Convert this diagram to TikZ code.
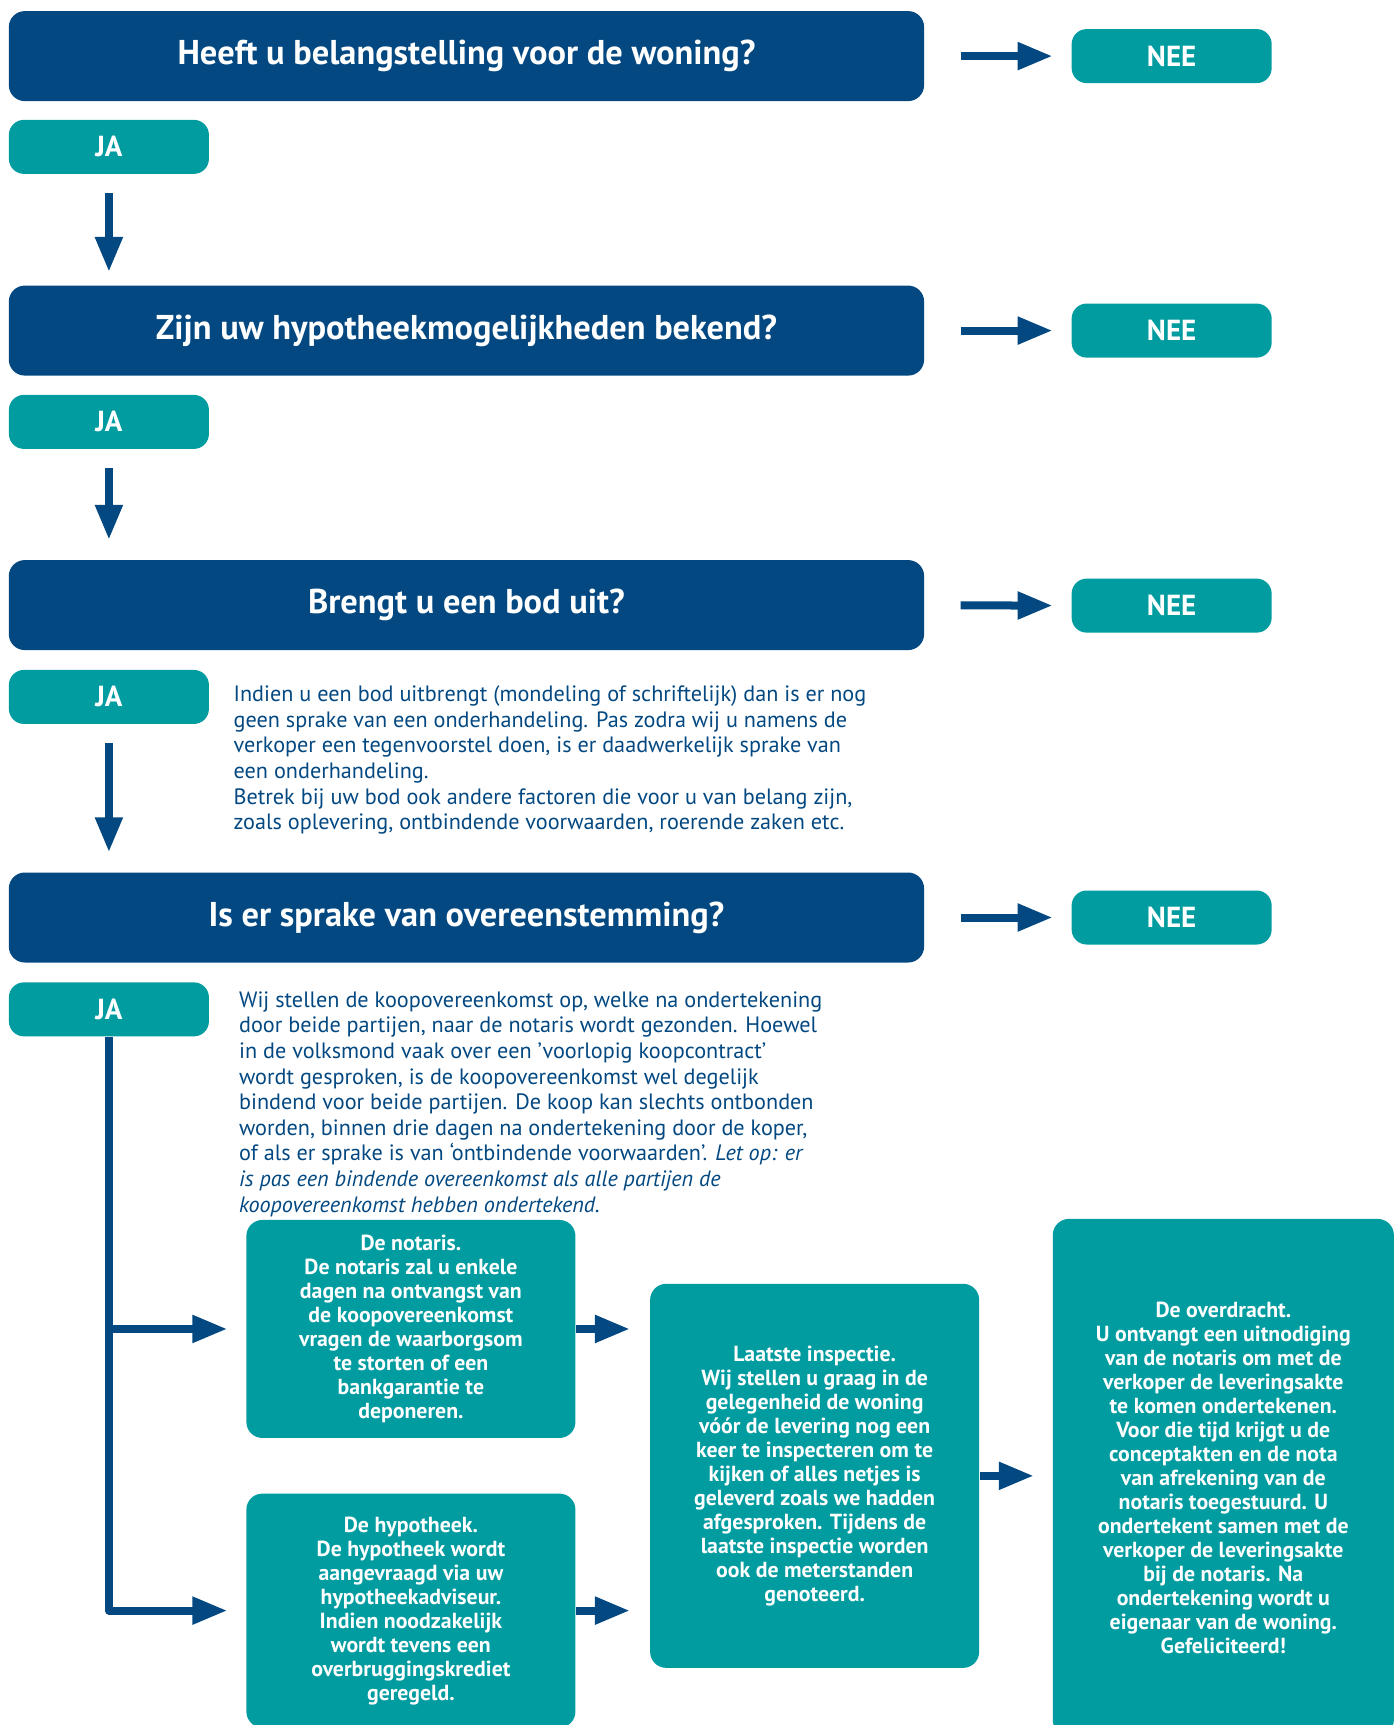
\documentclass[tikz,border=0pt]{standalone}
\usepackage{fontspec}
\setmainfont{PT Sans}
\usetikzlibrary{arrows.meta}
\definecolor{donkerblauw}{RGB}{3,72,129}
\definecolor{petrol}{RGB}{0,156,160}

\begin{document}
\begin{tikzpicture}[x=0.55pt,y=-0.55pt,
	vraag/.style={fill=donkerblauw,rounded corners=8pt,text=white,minimum width=457.6pt,minimum height=45pt,font=\fontsize{17.2}{20}\selectfont\bfseries},
	antwoord/.style={fill=petrol,rounded corners=7.5pt,text=white,minimum width=100pt,minimum height=27pt,font=\fontsize{14.5}{16}\selectfont\bfseries},
	stap/.style={fill=petrol,rounded corners=8pt,text=white,align=center,inner sep=0pt,font=\fontsize{10.9}{12}\selectfont\bfseries},
	uitleg/.style={text=donkerblauw,align=left,inner sep=0pt,anchor=north west,font=\fontsize{11.1}{12.8}\selectfont},
	pijl/.style={draw=donkerblauw,line width=4pt,-{Triangle[length=17.5pt,width=13pt]}}]
	\useasboundingbox (0,0) rectangle (1267,1568);

	\begin{scope}[every node/.style={vraag}]
		\node (V1) at (424,51) {Heeft u belangstelling voor de woning?};
		\node (V2) at (424,300.5) {Zijn uw hypotheekmogelijkheden bekend?};
		\node (V3) at (424,550) {Brengt u een bod uit?};
		\node (V4) at (424,834) {Is er sprake van overeenstemming?};
	\end{scope}

	\begin{scope}[every node/.style={antwoord}]
		\node (JA1) at (99,133.5) {JA};
		\node (JA2) at (99,383.5) {JA};
		\node (JA3) at (99,633.5) {JA};
		\node (JA4) at (99,917.5) {JA};
		\node (NEE1) at (1065,51) {NEE};
		\node (NEE2) at (1065,300.5) {NEE};
		\node (NEE3) at (1065,550.5) {NEE};
		\node (NEE4) at (1065,834) {NEE};
	\end{scope}

	\node[uitleg] (T1) at (212,623) {Indien u een bod uitbrengt (mondeling of schriftelijk) dan is er nog\\
		geen sprake van een onderhandeling. Pas zodra wij u namens de\\
		verkoper een tegenvoorstel doen, is er daadwerkelijk sprake van\\
		een onderhandeling.\\
		Betrek bij uw bod ook andere factoren die voor u van belang zijn,\\
		zoals oplevering, ontbindende voorwaarden, roerende zaken etc.};
	\node[uitleg] (T2) at (217,901) {Wij stellen de koopovereenkomst op, welke na ondertekening\\
		door beide partijen, naar de notaris wordt gezonden. Hoewel\\
		in de volksmond vaak over een ’voorlopig koopcontract’\\
		wordt gesproken, is de koopovereenkomst wel degelijk\\
		bindend voor beide partijen. De koop kan slechts ontbonden\\
		worden, binnen drie dagen na ondertekening door de koper,\\
		of als er sprake is van ‘ontbindende voorwaarden’. \textit{Let op: er}\\
		\textit{is pas een bindende overeenkomst als alle partijen de}\\
		\textit{koopovereenkomst hebben ondertekend.}};

	\begin{scope}[every node/.style={stap}]
		\node[minimum width=164.5pt,minimum height=109pt] (notaris) at (373.5,1208) {De notaris.\\
			De notaris zal u enkele\\ dagen na ontvangst van\\ de koopovereenkomst\\
			vragen de waarborgsom\\ te storten of een\\ bankgarantie te\\ deponeren.};
		\node[minimum width=164.5pt,minimum height=117pt] (hypotheek) at (373.5,1464) {De hypotheek.\\
			De hypotheek wordt\\ aangevraagd via uw\\ hypotheekadviseur.\\
			Indien noodzakelijk\\ wordt tevens een\\ overbruggingskrediet\\ geregeld.};
		\node[minimum width=164.5pt,minimum height=192pt] (inspectie) at (740.5,1341.5) {Laatste inspectie.\\
			Wij stellen u graag in de\\ gelegenheid de woning\\ vóór de levering nog een\\
			keer te inspecteren om te\\ kijken of alles netjes is\\ geleverd zoals we hadden\\
			afgesproken. Tijdens de\\ laatste inspectie worden\\ ook de meterstanden\\ genoteerd.};
		\node[minimum width=170.5pt,minimum height=258.5pt] (overdracht) at (1112,1343) {De overdracht.\\
			U ontvangt een uitnodiging\\ van de notaris om met de\\ verkoper de leveringsakte\\
			te komen ondertekenen.\\ Voor die tijd krijgt u de\\ conceptakten en de nota\\
			van afrekening van de\\ notaris toegestuurd. U\\ ondertekent samen met de\\
			verkoper de leveringsakte\\ bij de notaris. Na\\ ondertekening wordt u\\
			eigenaar van de woning.\\ Gefeliciteerd!};
	\end{scope}

	% nee
	\begin{scope}[every path/.style={pijl,shorten <=18pt,shorten >=9.3pt}]
		\path (V1) edge (NEE1);
		\path (V2) edge (NEE2);
		\path (V3) edge (NEE3);
		\path (V4) edge (NEE4);
	\end{scope}

	% ja
	\draw[pijl,shorten <=9.3pt,shorten >=6.6pt] (JA1.south) -- (JA1.south |- V2.north);
	\draw[pijl,shorten <=9.3pt,shorten >=9.9pt] (JA2.south) -- (JA2.south |- V3.north);
	\draw[pijl,shorten <=9.3pt,shorten >=9.9pt] (JA3.south) -- (JA3.south |- V4.north);
	\draw[pijl,line join=round,shorten >=9.3pt] (JA4.south) |- (notaris.west);
	\draw[pijl,line join=round,shorten >=9.3pt] (JA4.south) |- (hypotheek.west);

	\draw[pijl,shorten >=9.9pt] (notaris.east) -- (notaris.east -| inspectie.west);
	\draw[pijl,shorten >=9.9pt] (hypotheek.east) -- (hypotheek.east -| inspectie.west);
	\draw[pijl,shorten >=9.3pt] (inspectie.east) -- (inspectie.east -| overdracht.west);
\end{tikzpicture}
\end{document}
